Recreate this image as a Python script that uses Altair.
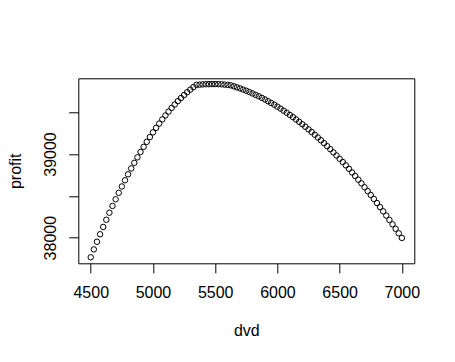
import altair as alt
import pandas as pd

# dvd values (x)
dvd = [4500, 4525, 4550, 4575, 4600, 4625, 4650, 4675, 4700, 4725,
       4750, 4775, 4800, 4825, 4850, 4875, 4900, 4925, 4950, 4975,
       5000, 5025, 5050, 5075, 5100, 5125, 5150, 5175, 5200, 5225,
       5250, 5275, 5300, 5325, 5350, 5375, 5400, 5425, 5450, 5475,
       5500, 5525, 5550, 5575, 5600, 5625, 5650, 5675, 5700, 5725,
       5750, 5775, 5800, 5825, 5850, 5875, 5900, 5925, 5950, 5975,
       6000, 6025, 6050, 6075, 6100, 6125, 6150, 6175, 6200, 6225,
       6250, 6275, 6300, 6325, 6350, 6375, 6400, 6425, 6450, 6475,
       6500, 6525, 6550, 6575, 6600, 6625, 6650, 6675, 6700, 6725,
       6750, 6775, 6800, 6825, 6850, 6875, 6900, 6925, 6950, 6975,
       7000]

# profit values (y)
profit = [37766, 37860, 37951, 38041, 38128, 38214, 38298, 38379, 38459, 38536,
          38612, 38686, 38757, 38827, 38894, 38960, 39024, 39085, 39145, 39202,
          39258, 39312, 39363, 39413, 39460, 39506, 39550, 39591, 39631, 39668,
          39704, 39738, 39769, 39799, 39826, 39828, 39831, 39833, 39834, 39835,
          39835, 39834, 39832, 39829, 39825, 39820, 39808, 39796, 39783, 39769,
          39755, 39740, 39723, 39706, 39689, 39670, 39651, 39630, 39609, 39588,
          39565, 39542, 39517, 39492, 39466, 39440, 39412, 39384, 39355, 39325,
          39294, 39263, 39230, 39197, 39163, 39129, 39093, 39057, 39019, 38982,
          38943, 38904, 38864, 38823, 38779, 38737, 38693, 38649, 38603, 38557,
          38510, 38463, 38414, 38365, 38315, 38264, 38212, 38160, 38106, 38052,
          37997]

x_ticks = [4500, 5000, 5500, 6000, 6500, 7000]
y_ticks = [38000, 38500, 39000, 39500]

df = pd.DataFrame({"dvd": dvd, "profit": profit})

FONT = "Liberation Sans"
FS = 16

chart = alt.Chart(df).mark_point(
    shape="circle", filled=False, color="black", strokeWidth=1, size=30, opacity=1
).encode(
    x=alt.X("dvd:Q",
            scale=alt.Scale(domain=[4400, 7100], nice=False, zero=False),
            axis=alt.Axis(values=x_ticks, format="d", grid=False, domain=False,
                          tickColor="black", tickSize=9.6, tickWidth=1,
                          labelFont=FONT, labelFontSize=FS, labelColor="black",
                          labelBaseline="alphabetic", labelPadding=25,
                          labelFlush=False, labelOverlap=False,
                          title="dvd", titleFont=FONT, titleFontSize=FS,
                          titleFontWeight="normal", titleColor="black",
                          titleBaseline="alphabetic", titleAlign="center",
                          titleX=168, titleY=72.7)),
    y=alt.Y("profit:Q",
            scale=alt.Scale(domain=[37694, 39904], nice=False, zero=False),
            axis=alt.Axis(values=y_ticks, format="d", grid=False, domain=False,
                          tickColor="black", tickSize=9.6, tickWidth=1,
                          labelExpr="datum.value % 1000 == 0 ? datum.label : ''",
                          labelFont=FONT, labelFontSize=FS, labelColor="black",
                          labelAngle=270, labelAlign="center",
                          labelBaseline="alphabetic", labelPadding=13.7,
                          labelFlush=False, labelOverlap=False,
                          title="profit", titleFont=FONT, titleFontSize=FS,
                          titleFontWeight="normal", titleColor="black",
                          titleAngle=270, titleBaseline="alphabetic",
                          titleAlign="center", titleX=-58.0, titleY=92.5)),
).properties(
    width=336, height=185,
    autosize=alt.AutoSizeParams(type="none"),
    padding={"left": 70.3, "top": 70.3, "right": 30, "bottom": 85},
    background="white",
).configure_view(
    stroke="black", strokeWidth=1
)

chart.save("out.html", embed_options={"renderer": "svg", "actions": False})
